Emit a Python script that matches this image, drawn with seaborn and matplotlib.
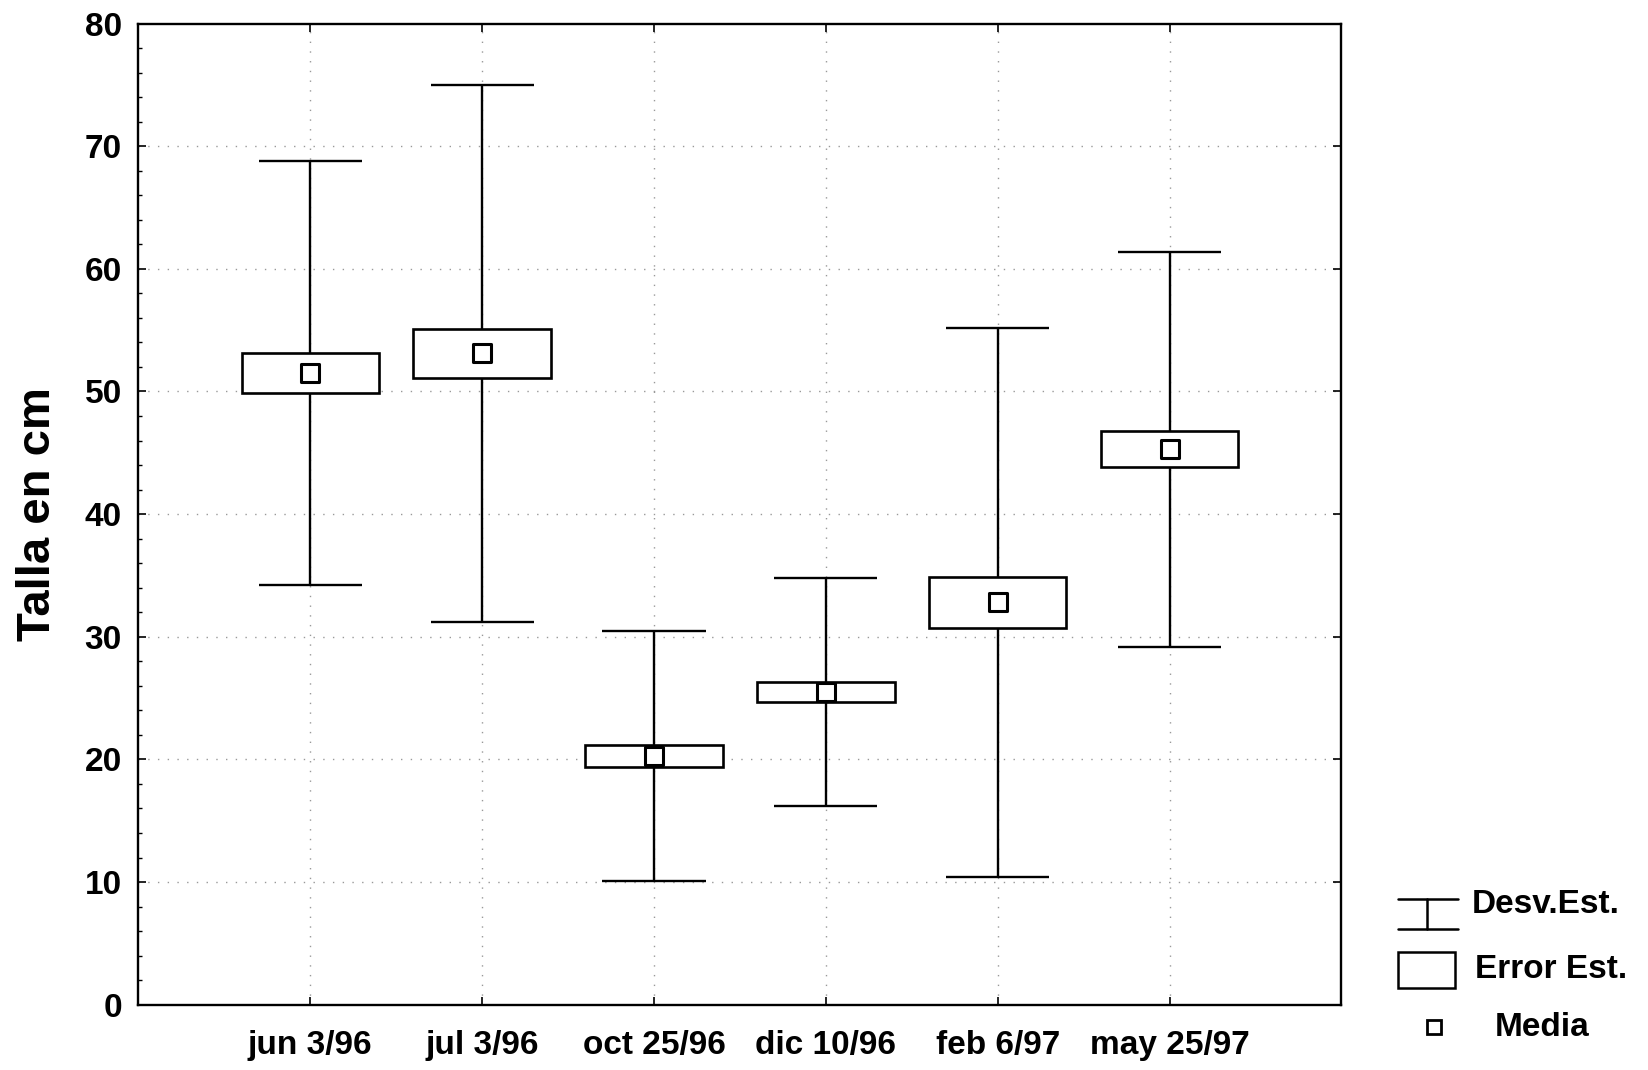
import numpy as np
import pandas as pd
import seaborn as sns
import matplotlib.pyplot as plt
from matplotlib.ticker import MultipleLocator
from matplotlib.lines import Line2D

fechas = ["jun 3/96", "jul 3/96", "oct 25/96", "dic 10/96", "feb 6/97", "may 25/97"]
media = [51.5, 53.1, 20.3, 25.5, 32.8, 45.3]
error_est = [1.6, 2.0, 0.9, 0.8, 2.05, 1.45]
desv_est = [17.3, 21.9, 10.2, 9.3, 22.4, 16.1]

sns.set_style("ticks")
plt.rcParams['font.family'] = ['Liberation Sans', 'DejaVu Sans']
plt.rcParams['font.weight'] = 'bold'
for k in ['text.color', 'axes.labelcolor', 'xtick.color', 'ytick.color']:
    plt.rcParams[k] = 'black'

df = pd.DataFrame({"fecha": fechas, "media": media, "se": error_est, "sd": desv_est})
df["pos"] = np.arange(1, len(df) + 1)

fig = plt.figure(figsize=(16.48, 10.7), dpi=100)
ax = fig.add_axes([0.084, 0.061, 0.730, 0.917])

# grid
for y in range(10, 80, 10):
    ax.axhline(y, color='#999999', lw=1, ls=(0, (1, 6)), zorder=0)
for x in df["pos"]:
    ax.axvline(x, color='#999999', lw=1, ls=(0, (1, 6)), zorder=0)

# desviacion estandar (bigotes)
ax.vlines(df["pos"], df["media"] - df["sd"], df["media"] + df["sd"], color='black', lw=1.7, zorder=2)
ax.hlines(df["media"] + df["sd"], df["pos"] - 0.3, df["pos"] + 0.3, color='black', lw=1.7, zorder=2)
ax.hlines(df["media"] - df["sd"], df["pos"] - 0.3, df["pos"] + 0.3, color='black', lw=1.7, zorder=2)

# error estandar (cajas)
ax.bar(df["pos"], 2 * df["se"], bottom=df["media"] - df["se"], width=0.8,
       facecolor='white', edgecolor='black', linewidth=1.9, zorder=3)

# media
sns.scatterplot(data=df, x="pos", y="media", marker='s', s=150, facecolor='white',
                edgecolor='black', linewidth=2.2, ax=ax, zorder=4, legend=False)

ax.set_xlim(0, 7)
ax.set_ylim(0, 80)
ax.set_xticks(df["pos"])
ax.set_xticklabels(fechas)
ax.yaxis.set_major_locator(MultipleLocator(10))
ax.yaxis.set_minor_locator(MultipleLocator(2))
ax.tick_params(axis='both', which='major', labelsize=24, direction='in', length=6, width=1.2,
               top=True, right=True)
ax.tick_params(axis='y', which='minor', direction='in', length=3, width=1, right=False)
ax.tick_params(axis='x', pad=18)
ax.tick_params(axis='y', pad=12)
for lab in ax.get_xticklabels() + ax.get_yticklabels():
    lab.set_fontweight('bold')
ax.set_xlabel("")
ax.set_ylabel("Talla en cm", fontsize=34, fontweight='bold', labelpad=18)
for s in ax.spines.values():
    s.set_linewidth(1.7)
    s.set_color('black')

# leyenda
kw = dict(transform=fig.transFigure, color='black', lw=1.8)
fig.add_artist(Line2D([0.848, 0.885], [0.160, 0.160], **kw))
fig.add_artist(Line2D([0.848, 0.885], [0.132, 0.132], **kw))
fig.add_artist(Line2D([0.866, 0.866], [0.132, 0.160], **kw))
fig.add_artist(plt.Rectangle((0.848, 0.077), 0.035, 0.033, transform=fig.transFigure,
                             facecolor='white', edgecolor='black', lw=1.8))
fig.add_artist(Line2D([0.870], [0.040], marker='s', markersize=10, markerfacecolor='white',
                      markeredgecolor='black', markeredgewidth=2, transform=fig.transFigure))
fig.text(0.893, 0.155, "Desv.Est.", fontsize=24, fontweight='bold', va='center')
fig.text(0.895, 0.094, "Error Est.", fontsize=24, fontweight='bold', va='center')
fig.text(0.907, 0.040, "Media", fontsize=24, fontweight='bold', va='center')

fig.savefig("out.png", dpi=100)
